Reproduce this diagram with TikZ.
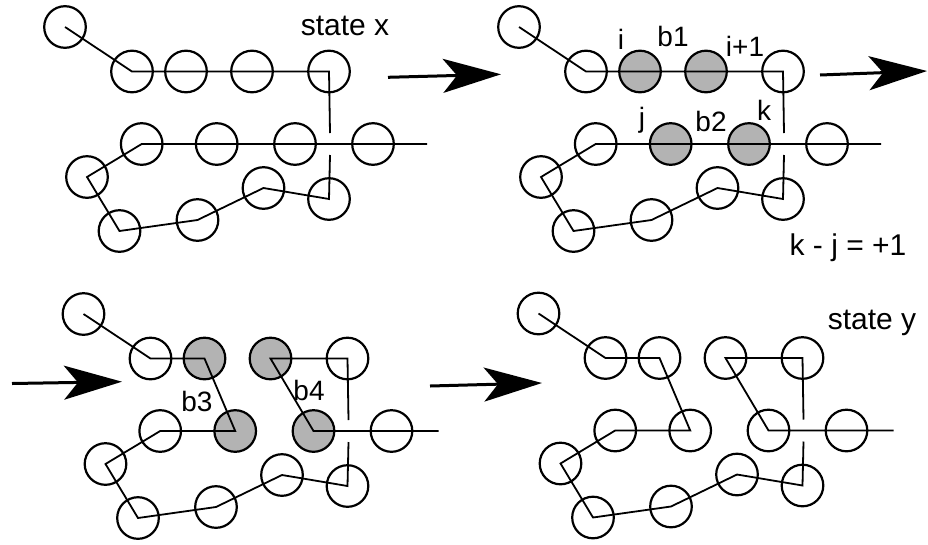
\documentclass[tikz,border=0pt]{standalone}
\usepackage{fontspec}
\setmainfont{Liberation Sans}
\usetikzlibrary{arrows.meta}
\definecolor{beadgray}{RGB}{179,179,179}
\begin{document}
\begin{tikzpicture}[x=1pt,y=-1pt,
  bead/.style={circle,draw,line width=2.2pt,minimum size=41.6pt,inner sep=0pt},
  shaded/.style={fill=beadgray},
  plain/.style={},
  chain/.style={line width=1.8pt,line join=miter},
  bigarrow/.style={line width=3pt,-{Stealth[length=58pt,width=34pt,inset=14pt]}},
  lbl/.style={anchor=base,inner sep=0pt,font=\fontsize{28pt}{34pt}\selectfont},
  ttl/.style={anchor=base,inner sep=0pt,font=\fontsize{30pt}{36pt}\selectfont},
  pics/beads/.style={code={
    \node[bead] (-a1) at (65,27) {};
    \node[bead] (-a2) at (132,71.5) {};
    \node[bead,#1] (-a3) at (186,71.5) {};
    \node[bead,#1] (-a4) at (252,71.5) {};
    \node[bead] (-a5) at (329,71.5) {};
    \node[bead] (-a6) at (329,199) {};
    \node[bead] (-a7) at (263.5,188) {};
    \node[bead] (-a8) at (197.5,220) {};
    \node[bead] (-a9) at (119.5,231) {};
    \node[bead] (-a10) at (87,177) {};
    \node[bead] (-a11) at (141.7,144) {};
    \node[bead,#1] (-a12) at (216.7,144) {};
    \node[bead,#1] (-a13) at (295,144) {};
    \node[bead] (-a14) at (373,144) {};
    \coordinate (-gt) at (330,133);
    \coordinate (-gb) at (330,155);
    \coordinate (-t1) at (427,144);
    \coordinate (-t2) at (420,144);
  }}
]
\useasboundingbox (0,0) rectangle (928,544);

% bead panels
\pic (p1) at (0,0) {beads=plain};
\pic (p2) at (454,0) {beads=shaded};
\pic (p3) at (18.5,287) {beads=shaded};
\pic (p4) at (473.5,286.5) {beads=plain};

% chains, state x and intermediate
\foreach \p in {p1,p2}{
  \draw[chain] (\p-a1.center) -- (\p-a2.center) -- (\p-a3.center) -- (\p-a4.center)
     -- (\p-a5.center) -- (\p-gt);
  \draw[chain] (\p-gb) -- (\p-a6.center) -- (\p-a7.center) -- (\p-a8.center)
     -- (\p-a9.center) -- (\p-a10.center) -- (\p-a11.center) -- (\p-a12.center)
     -- (\p-a13.center) -- (\p-a14.center) -- (\p-t1);
}
% chains, after the move and state y
\foreach \p in {p3,p4}{
  \draw[chain] (\p-a1.center) -- (\p-a2.center) -- (\p-a3.center) -- (\p-a12.center)
     -- (\p-a11.center) -- (\p-a10.center) -- (\p-a9.center) -- (\p-a8.center)
     -- (\p-a7.center) -- (\p-a6.center) -- (\p-gb);
  \draw[chain] (\p-gt) -- (\p-a5.center) -- (\p-a4.center) -- (\p-a13.center)
     -- (\p-a14.center) -- (\p-t2);
}

% arrows
\coordinate (ar1s) at (388,77.3);  \coordinate (ar1e) at (501,74.3);
\coordinate (ar2s) at (820,75);    \coordinate (ar2e) at (927,71);
\coordinate (ar3s) at (12,383.5);  \coordinate (ar3e) at (122,381.7);
\coordinate (ar4s) at (430,386);   \coordinate (ar4e) at (542,383);
\draw[bigarrow] (ar1s) -- (ar1e);
\draw[bigarrow] (ar2s) -- (ar2e);
\draw[bigarrow] (ar3s) -- (ar3e);
\draw[bigarrow] (ar4s) -- (ar4e);

% labels
\node[ttl] (sx) at (345,35) {state x};
\node[ttl] (sy) at (872,329.5) {state y};
\node[ttl] (eq) at (848,255) {k - j = +1};
\node[lbl] (li) at (621,49) {i};
\node[lbl] (lb1) at (673,46.5) {b1};
\node[lbl] (li1) at (745,56.5) {i+1};
\node[lbl] (lj) at (642,127) {j};
\node[lbl] (lb2) at (711,131) {b2};
\node[lbl] (lk) at (764,120) {k};
\node[lbl] (lb3) at (197,411) {b3};
\node[lbl] (lb4) at (309,400) {b4};
\end{tikzpicture}
\end{document}
